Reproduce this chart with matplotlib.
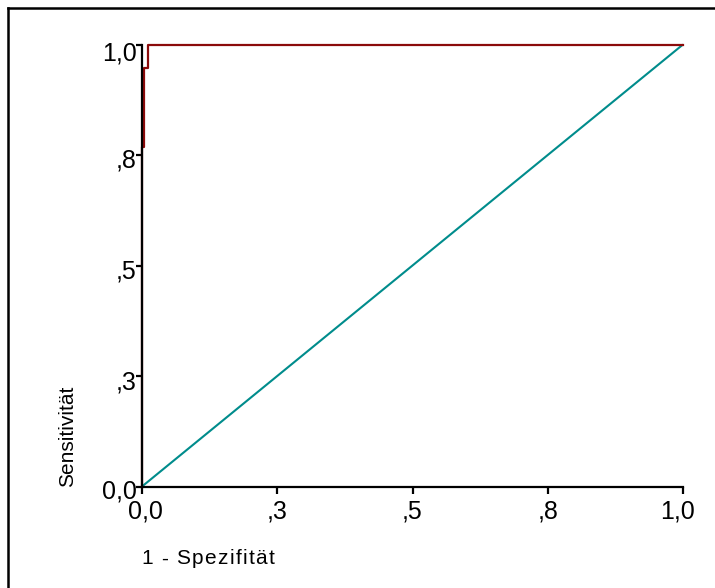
import matplotlib
matplotlib.use("Agg")
import matplotlib.pyplot as plt
from matplotlib.lines import Line2D
import matplotlib.transforms as mtransforms

plt.rcParams['font.family'] = ['Liberation Sans', 'DejaVu Sans']

# ROC curve data (1 - specificity, sensitivity)
fpr = [0.0, 0.0, 0.004, 0.004, 0.011, 0.011, 0.130, 0.130, 1.0]
tpr = [0.0, 0.769, 0.769, 0.947, 0.947, 0.998, 0.998, 1.0, 1.0]
# reference line
ref_x = [0.0, 1.0]
ref_y = [0.0, 1.0]

tick_vals = [0.0, 0.25, 0.5, 0.75, 1.0]
tick_labels = ["0,0", ",3", ",5", ",8", "1,0"]

W, H = 715, 588
fig = plt.figure(figsize=(W / 100, H / 100), dpi=100)
fig.patch.set_facecolor('white')

ax = fig.add_axes([142 / W, 1 - 486.5 / H, 541 / W, 442 / H])
ax.plot(ref_x, ref_y, color='#008c8c', lw=1.5, solid_capstyle='butt', zorder=2)
ax.plot(fpr, tpr, color='#8b0a0a', lw=1.6, zorder=3)

ax.set_xlim(0, 1)
ax.set_ylim(0, 1)
for s in ['top', 'right']:
    ax.spines[s].set_visible(False)
for s in ['left', 'bottom']:
    ax.spines[s].set_linewidth(1.6)
    ax.spines[s].set_zorder(4)

ax.set_xticks(tick_vals)
ax.set_xticklabels(tick_labels)
ax.set_yticks(tick_vals)
ax.set_yticklabels(tick_labels)
ax.tick_params(axis='x', direction='out', length=5, width=1.6, pad=4, labelsize=18)
ax.tick_params(axis='y', direction='out', length=4, width=1.6, pad=0, labelsize=18)
for ln in ax.get_lines():
    ln.set_clip_on(False)

# small offsets of tick labels as in the reference
xoffs = [3, 0, 0, 0, -5]
for lab, dx in zip(ax.get_xticklabels(), xoffs):
    lab.set_transform(lab.get_transform() + mtransforms.ScaledTranslation(dx / 100, 0, fig.dpi_scale_trans))
yoffs = [-2, -4, -3, -3, -6]
for lab, dy in zip(ax.get_yticklabels(), yoffs):
    lab.set_transform(lab.get_transform() + mtransforms.ScaledTranslation(0, dy / 100, fig.dpi_scale_trans))

# y label
fig.text(73 / W, 1 - 486.7 / H, "Sensitivität", rotation=90, fontsize=15,
         ha='left', va='baseline', rotation_mode='anchor')

# x label with letter spacing
xlabel = "1 - Spezifität"
fig.canvas.draw()
renderer = fig.canvas.get_renderer()
x_px = 141.0
track = 1.35
for ch in xlabel:
    t = fig.text(x_px / W, 1 - 564.3 / H, ch, fontsize=15, ha='left', va='baseline')
    if ch == ' ':
        tt = fig.text(0, 0, 'a a', fontsize=15)
        w1 = tt.get_window_extent(renderer).width
        tt.set_text('aa')
        w2 = tt.get_window_extent(renderer).width
        tt.remove()
        w = w1 - w2
    else:
        w = t.get_window_extent(renderer).width
    x_px += w + track

# frame (top and left only)
fig.add_artist(Line2D([8.2 / W, 1.0], [1 - 7.8 / H, 1 - 7.8 / H], color='black', lw=1.8,
                      transform=fig.transFigure))
fig.add_artist(Line2D([8.2 / W, 8.2 / W], [0.0, 1 - 7.8 / H], color='black', lw=1.8,
                      transform=fig.transFigure))

fig.savefig("out.png", dpi=100)
